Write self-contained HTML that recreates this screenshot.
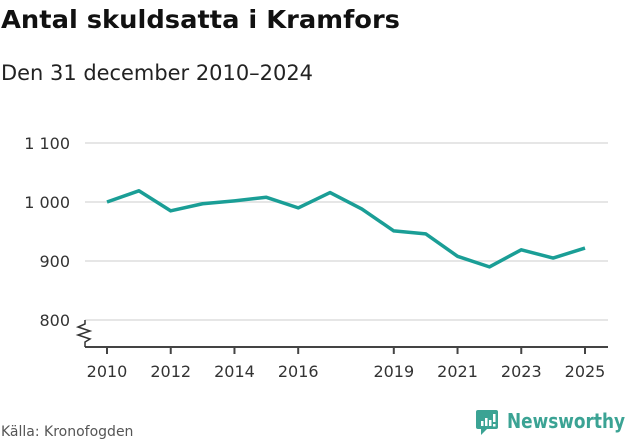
<!DOCTYPE html>
<html><head><meta charset="utf-8"><style>
body{margin:0;width:631px;height:439px;background:#fff;overflow:hidden;font-family:"DejaVu Sans","Liberation Sans",sans-serif;}
</style></head><body>
<svg width="631" height="439">
<text x="1" y="28" font-size="25" font-weight="bold" fill="#111" textLength="399" lengthAdjust="spacingAndGlyphs">Antal skuldsatta i Kramfors</text>
<text x="1" y="80" font-size="21" fill="#222" textLength="312" lengthAdjust="spacingAndGlyphs">Den 31 december 2010–2024</text>
<g id="grid"></g>
<g id="yl"></g>
<line x1="85" x2="608" y1="347" y2="347" stroke="#444" stroke-width="2"/>
<path d="M85,320 L85,324 L78,327 L90,331 L78,335 L90,339 L85,342 L85,347" fill="none" stroke="#333" stroke-width="1.5"/>
<g id="xt"></g>
<path id="line" fill="none" stroke="#1a9e96" stroke-width="3.5" stroke-linejoin="round"/>
<text x="1" y="436" font-size="14" fill="#555">Källa: Kronofogden</text>
<g>
<rect x="476" y="410" width="22" height="19" rx="2" fill="#3ba394"/>
<path d="M481,429 L481,435 L487,429 Z" fill="#3ba394"/>
<rect x="481" y="421" width="2.5" height="5" fill="#fff"/><rect x="485" y="418" width="2.5" height="8" fill="#fff"/><rect x="489" y="420" width="2.5" height="6" fill="#fff"/><rect x="493" y="414" width="2.5" height="8" fill="#fff"/><rect x="493" y="424" width="2.5" height="2.5" fill="#fff"/>
<text x="507" y="428" font-size="20" font-weight="bold" fill="#3ba394" textLength="118" lengthAdjust="spacingAndGlyphs">Newsworthy</text>
</g>
</svg>
<script>
const years=[2010,2011,2012,2013,2014,2015,2016,2017,2018,2019,2020,2021,2022,2023,2024,2025];
const values=[1000,1019,985,997,1002,1008,990,1016,988,951,946,908,890,919,905,922];
const yTicks=[800,900,1000,1100];
const yTickLabels=["800","900","1 000","1 100"];
const xTicks=[2010,2012,2014,2016,2019,2021,2023,2025];
const ns="http://www.w3.org/2000/svg";
const X=y=>107+(y-2010)*(585-107)/15;
const Y=v=>202-(v-1000)*0.59;
const grid=document.getElementById('grid'),yl=document.getElementById('yl'),xt=document.getElementById('xt');
yTicks.forEach((t,i)=>{
 const l=document.createElementNS(ns,'line');
 
 
 l.setAttribute('x1',85);l.setAttribute('x2',608);l.setAttribute('y1',Y(t));l.setAttribute('y2',Y(t));
 l.setAttribute('stroke','#ddd');l.setAttribute('stroke-width','1.5');grid.appendChild(l);
 const tx=document.createElementNS(ns,'text');
 
 
 tx.setAttribute('x',70);tx.setAttribute('y',Y(t)+6);tx.setAttribute('text-anchor','end');
 tx.setAttribute('font-size','16');tx.setAttribute('fill','#333');tx.textContent=yTickLabels[i];yl.appendChild(tx);
});
xTicks.forEach(t=>{
 const l=document.createElementNS(ns,'line');
 
 
 l.setAttribute('x1',X(t));l.setAttribute('x2',X(t));l.setAttribute('y1',347);l.setAttribute('y2',354);
 l.setAttribute('stroke','#444');l.setAttribute('stroke-width','2');xt.appendChild(l);
 const tx=document.createElementNS(ns,'text');
 
 
 tx.setAttribute('x',X(t));tx.setAttribute('y',377);tx.setAttribute('text-anchor','middle');
 tx.setAttribute('font-size','16');tx.setAttribute('fill','#333');tx.textContent=t;xt.appendChild(tx);
});
document.getElementById('line').setAttribute('d',values.map((v,i)=>(i?'L':'M')+X(years[i])+','+Y(v)).join(' '));
</script>
</body></html>
